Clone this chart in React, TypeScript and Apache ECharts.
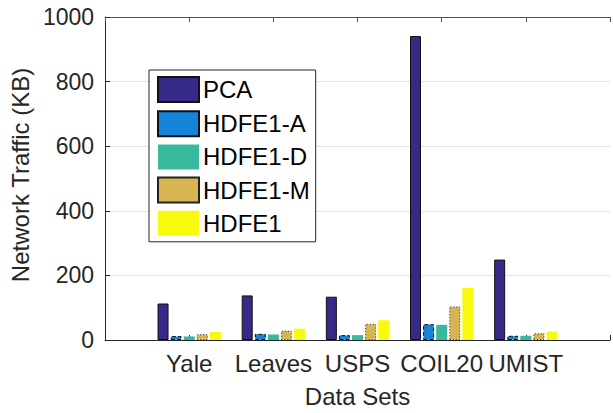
import React, { useEffect, useRef } from "react";
import * as echarts from "echarts";

const categories = ["Yale", "Leaves", "USPS", "COIL20", "UMIST"];
const seriesNames = ["PCA", "HDFE1-A", "HDFE1-D", "HDFE1-M", "HDFE1"];
const pcaValues = [113, 138, 134, 941, 249];
const hdfeAValues = [12, 19, 15, 49, 13];
const hdfeDValues = [11, 17, 15, 47, 13];
const hdfeMValues = [18, 29, 50, 104, 21];
const hdfeValues = [25, 35, 61, 161, 26];
const yTicks = { min: 0, max: 1000, interval: 200 };

const colors = ["#352a87", "#1584d8", "#38b99e", "#d6b552", "#f8fa0e"];
const borders: any[] = [
  { borderColor: "#111", borderWidth: 1, borderType: "solid" },
  { borderColor: "#111", borderWidth: 1, borderType: [4, 2] },
  { borderColor: "#38b99e", borderWidth: 0 },
  { borderColor: "#222", borderWidth: 1, borderType: [1, 2] },
  { borderColor: "#f8fa0e", borderWidth: 0 },
];

const FONT = '"Liberation Sans", Arial, Helvetica, sans-serif';
const TXT = "#262626";
const FS = 24;

export default function App() {
  const ref = useRef<HTMLDivElement>(null);
  useEffect(() => {
    if (!ref.current) return;
    const chart = echarts.init(ref.current, undefined, { renderer: "svg" });
    const axisCats = ["", ...categories, ""];
    const all = [pcaValues, hdfeAValues, hdfeDValues, hdfeMValues, hdfeValues];
    chart.setOption({
      animation: false,
      textStyle: { fontFamily: FONT, color: TXT },
      grid: { left: 104, top: 17, width: 510, height: 324, containLabel: false },
      legend: {
        orient: "vertical",
        left: 149,
        top: 70,
        padding: [6, 6, 6, 8],
        itemWidth: 41,
        itemHeight: 25,
        itemGap: 7.2,
        backgroundColor: "#fff",
        borderColor: TXT,
        borderWidth: 1,
        icon: "rect",
        textStyle: { fontFamily: FONT, fontSize: FS, lineHeight: 25, color: "#000", padding: [0, 0, 0, -1] },
        data: seriesNames,
      },
      xAxis: [
        {
          type: "category",
          data: axisCats,
          boundaryGap: false,
          position: "bottom",
          name: "Data Sets",
          nameLocation: "middle",
          nameGap: 44,
          nameTextStyle: { fontFamily: FONT, fontSize: FS, color: TXT },
          axisLine: { lineStyle: { color: TXT, width: 1 } },
          axisTick: { show: true, inside: true, length: 5, lineStyle: { color: TXT } },
          axisLabel: { fontFamily: FONT, fontSize: FS, color: TXT, margin: 11, interval: 0 },
          splitLine: { show: false },
        },
        {
          type: "category",
          data: axisCats,
          boundaryGap: false,
          position: "top",
          axisLine: { lineStyle: { color: "#555", width: 1 } },
          axisTick: { show: true, inside: true, length: 5, lineStyle: { color: "#555" } },
          axisLabel: { show: false },
          splitLine: { show: false },
        },
      ],
      yAxis: {
        type: "value",
        min: yTicks.min,
        max: yTicks.max,
        interval: yTicks.interval,
        name: "Network Traffic (KB)",
        nameLocation: "middle",
        nameGap: 70,
        nameTextStyle: { fontFamily: FONT, fontSize: FS, color: TXT, padding: [0, 0, 0, 7] },
        axisLine: { show: true, lineStyle: { color: TXT, width: 1 } },
        axisTick: { show: true, inside: true, length: 5, lineStyle: { color: TXT } },
        axisLabel: {
          fontFamily: FONT,
          fontSize: 23,
          color: TXT,
          margin: 11,
          formatter: (v: number) => String(v),
        },
        splitLine: { show: true, lineStyle: { color: "#e3e3e3", width: 1 } },
      },
      series: seriesNames.map((name, i) => ({
        name,
        type: "bar",
        xAxisIndex: 0,
        barWidth: 11,
        barGap: "19%",
        data: ["-", ...all[i], "-"],
        itemStyle: { color: colors[i], ...borders[i] },
      })),
    });
    return () => chart.dispose();
  }, []);
  return (
    <div
      ref={ref}
      style={{ position: "fixed", left: 0, top: 0, width: 613, height: 413, background: "#fff" }}
    />
  );
}
